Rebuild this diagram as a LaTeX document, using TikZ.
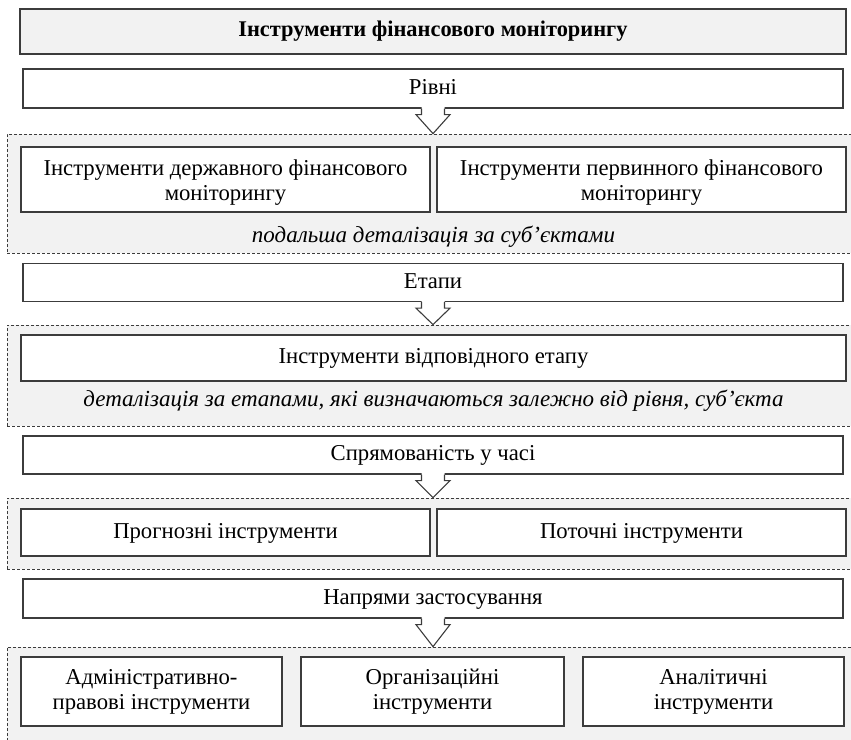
\documentclass[tikz,border=0pt]{standalone}
\usepackage{fontspec}
\setmainfont{Liberation Serif}
\usetikzlibrary{calc}
\definecolor{panel}{HTML}{F2F2F2}
\definecolor{edge}{HTML}{3C3C3C}
\newcommand\firstlinestrut{\rule{0pt}{22pt}}
\tikzset{
  box/.style={draw=edge, line width=1.3pt, fill=white, inner sep=2pt, align=center,
    font=\fontsize{22.7}{25}\selectfont},
  linebox/.style={box, text height=1.12em, text depth=0pt},
  headbox/.style={box, fill=panel, font=\fontsize{22.4}{25}\selectfont\bfseries},
  group/.style={draw=edge, line width=0.8pt, dash pattern=on 3pt off 2pt, fill=panel, inner sep=0pt},
  note/.style={font=\fontsize{23}{25}\selectfont\itshape, inner sep=0pt},
  arrowfill/.style={fill=white},
  arrowline/.style={draw=edge, line width=1.1pt, line join=miter},
}
% block arrow from the bottom of a level box to the top of its group
\newcommand\levelarrow[2]{%
  \fill[arrowfill] ($(#1.south)+(-11.5,-1.5)$) -- ($(#1.south)+(-11.5,6)$)
    -- ($(#1.south)+(-17,6)$) -- (#1.south |- #2.north) -- ($(#1.south)+(17,6)$)
    -- ($(#1.south)+(11.5,6)$) -- ($(#1.south)+(11.5,-1.5)$) -- cycle;
  \draw[arrowline] ($(#1.south)+(-11.5,0)$) -- ($(#1.south)+(-11.5,6)$)
    -- ($(#1.south)+(-17,6)$) -- (#1.south |- #2.north) -- ($(#1.south)+(17,6)$)
    -- ($(#1.south)+(11.5,6)$) -- ($(#1.south)+(11.5,0)$);
}
\begin{document}
\begin{tikzpicture}[x=1pt,y=-1pt]
\useasboundingbox (0,0) rectangle (851,739);
\clip (0,0) rectangle (851,739);

% dashed groups
\node[group, minimum width=853pt, minimum height=119pt] (g1) at (433.5,193.5) {};
\node[group, minimum width=853pt, minimum height=101pt] (g2) at (433.5,375.5) {};
\node[group, minimum width=853pt, minimum height=71pt]  (g3) at (433.5,533.5) {};
\node[group, minimum width=853pt, minimum height=113pt] (g4) at (433.5,703.5) {};

% title and level boxes
\node[headbox, minimum width=826pt, minimum height=45pt] (title) at (433,31.5) {Інструменти фінансового моніторингу};
\node[linebox, minimum width=820pt, minimum height=39pt] (levels) at (433,88.5) {Рівні};
\node[linebox, minimum width=820pt, minimum height=38pt] (stages) at (433,282.5) {Етапи};
\node[linebox, minimum width=820pt, minimum height=38pt] (time) at (433,455) {Спрямованість у часі};
\node[linebox, minimum width=820pt, minimum height=39pt] (areas) at (433,598.5) {Напрями застосування};

% group contents
\node[box, minimum width=409pt, minimum height=65pt] (state) at (225.5,179.5) {\firstlinestrut Інструменти державного фінансового\\моніторингу};
\node[box, minimum width=409pt, minimum height=65pt] (primary) at (641.5,179.5) {\firstlinestrut Інструменти первинного фінансового\\моніторингу};
\node[note] (n1) at (433.5,237) {подальша деталізація за суб’єктами};

\node[linebox, minimum width=825pt, minimum height=46pt] (stagetools) at (433.5,358) {Інструменти відповідного етапу};
\node[note] (n2) at (433.5,401) {деталізація за етапами, які визначаються залежно від рівня, суб’єкта};

\node[linebox, minimum width=409pt, minimum height=47pt] (forecast) at (225.5,532.5) {Прогнозні інструменти};
\node[linebox, minimum width=409pt, minimum height=47pt] (current) at (641.5,532.5) {Поточні інструменти};

\node[box, minimum width=261pt, minimum height=69pt] (admin) at (151.5,691.5) {Адміністративно-\\правові інструменти};
\node[box, minimum width=263pt, minimum height=69pt] (org) at (432.5,691.5) {Організаційні\\інструменти};
\node[box, minimum width=261pt, minimum height=69pt] (anal) at (713.5,691.5) {Аналітичні\\інструменти};

% arrows
\levelarrow{levels}{g1}
\levelarrow{stages}{g2}
\levelarrow{time}{g3}
\levelarrow{areas}{g4}
\end{tikzpicture}
\end{document}
